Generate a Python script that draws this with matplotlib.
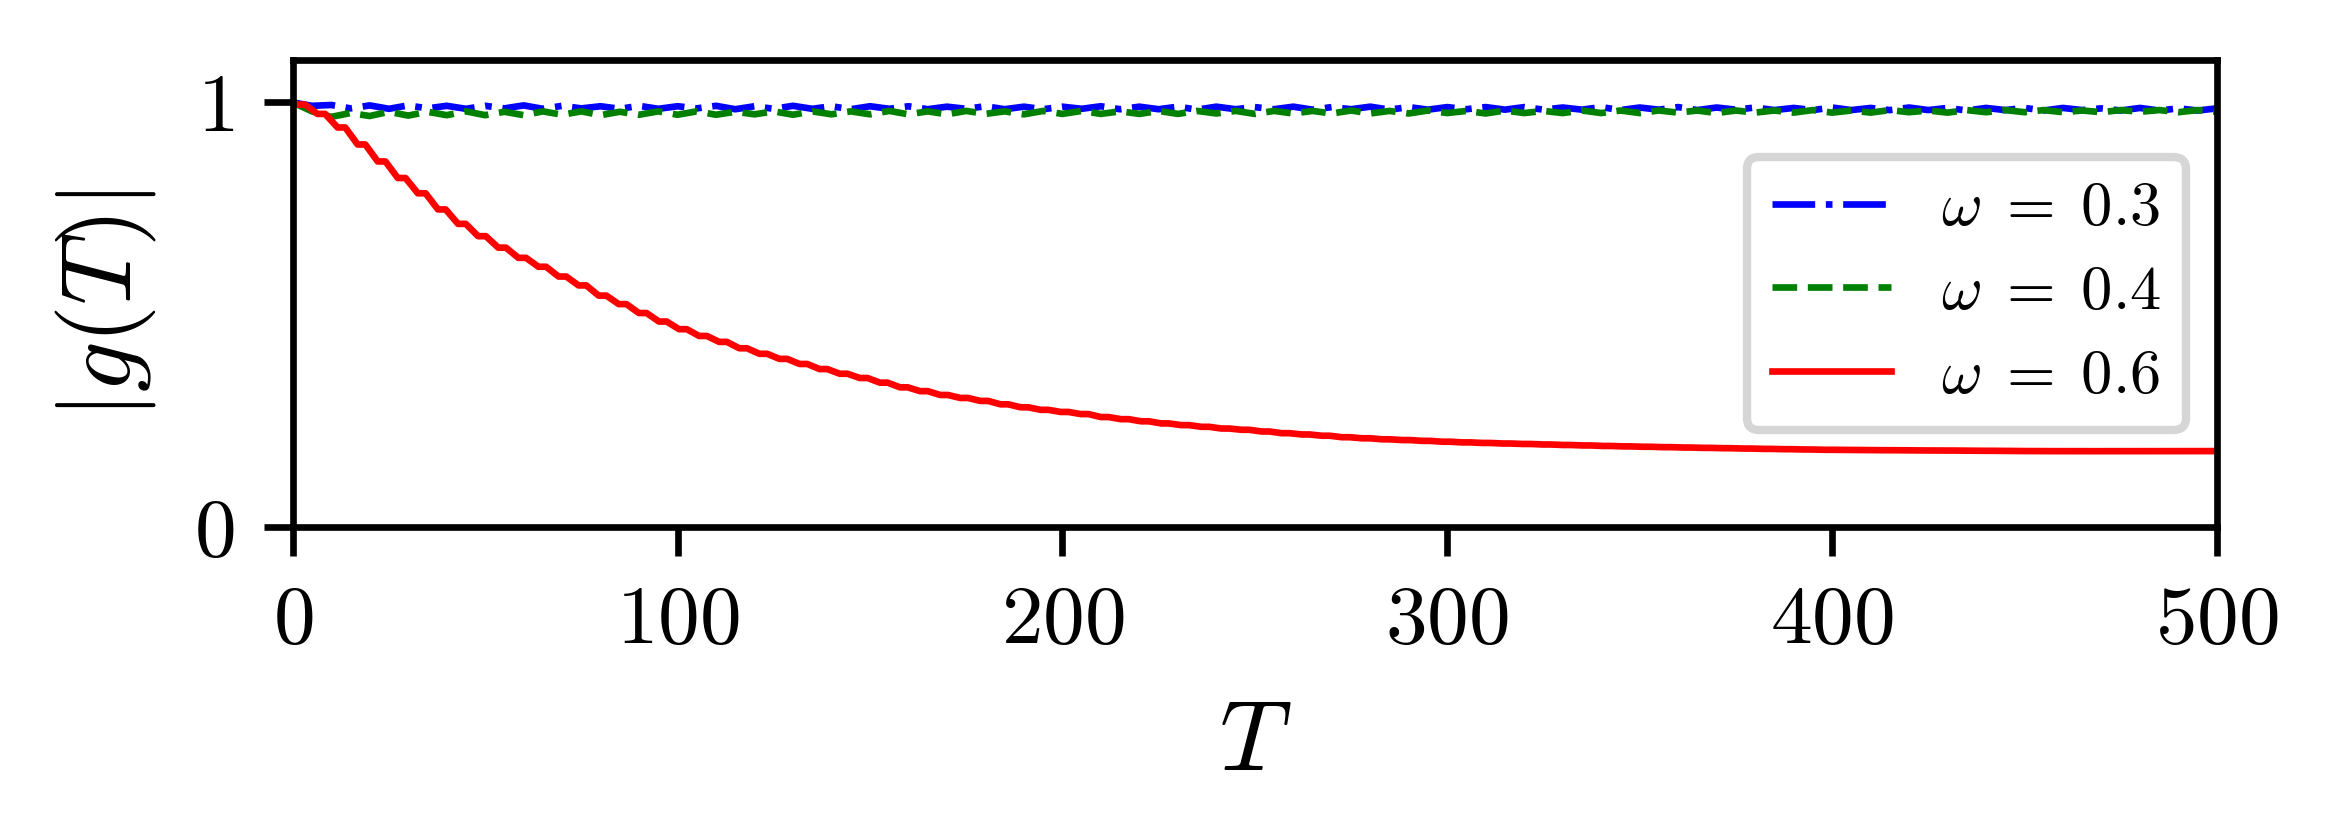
import matplotlib
matplotlib.use("Agg")
import matplotlib.pyplot as plt
import numpy as np

plt.rcParams['font.family'] = 'serif'
plt.rcParams['font.serif'] = ['cmr10']
plt.rcParams['mathtext.fontset'] = 'cm'
plt.rcParams['axes.formatter.use_mathtext'] = True

# omega = 0.3 and 0.4, read every 5 steps of T
T_grid = np.arange(0, 501, 5)
g_03 = [1.000, 0.992, 0.994, 0.986, 0.993, 0.985, 0.993, 0.986, 0.992, 0.985,
        0.992, 0.986, 0.993, 0.985, 0.992, 0.986, 0.991, 0.985, 0.992, 0.985,
        0.991, 0.986, 0.992, 0.984, 0.991, 0.985, 0.992, 0.985, 0.991, 0.984,
        0.991, 0.985, 0.991, 0.984, 0.990, 0.985, 0.991, 0.984, 0.990, 0.984,
        0.990, 0.985, 0.991, 0.984, 0.990, 0.984, 0.990, 0.983, 0.990, 0.984,
        0.989, 0.984, 0.990, 0.983, 0.989, 0.984, 0.990, 0.983, 0.989, 0.983,
        0.989, 0.984, 0.989, 0.983, 0.989, 0.983, 0.988, 0.983, 0.989, 0.982,
        0.988, 0.983, 0.989, 0.982, 0.988, 0.983, 0.988, 0.982, 0.987, 0.982,
        0.988, 0.982, 0.987, 0.982, 0.988, 0.982, 0.987, 0.981, 0.987, 0.982,
        0.987, 0.981, 0.987, 0.982, 0.986, 0.981, 0.987, 0.981, 0.986, 0.981,
        0.986]
g_04 = [1.000, 0.979, 0.966, 0.975, 0.968, 0.978, 0.969, 0.978, 0.970, 0.979,
        0.970, 0.978, 0.970, 0.979, 0.971, 0.979, 0.970, 0.978, 0.971, 0.979,
        0.971, 0.979, 0.971, 0.978, 0.972, 0.979, 0.971, 0.979, 0.972, 0.979,
        0.972, 0.980, 0.972, 0.979, 0.972, 0.980, 0.973, 0.979, 0.972, 0.980,
        0.973, 0.980, 0.973, 0.979, 0.973, 0.980, 0.973, 0.980, 0.974, 0.980,
        0.973, 0.980, 0.974, 0.980, 0.974, 0.981, 0.974, 0.980, 0.974, 0.981,
        0.975, 0.980, 0.974, 0.981, 0.975, 0.980, 0.975, 0.981, 0.975, 0.981,
        0.975, 0.981, 0.976, 0.981, 0.975, 0.981, 0.976, 0.981, 0.976, 0.982,
        0.976, 0.981, 0.976, 0.982, 0.977, 0.981, 0.976, 0.982, 0.977, 0.982,
        0.977, 0.982, 0.977, 0.981, 0.977, 0.982, 0.978, 0.982, 0.977, 0.982,
        0.978]

# omega = 0.6: level of each small step of the staircase, one every ~5.22 in T
step_T = 2.2 + 5.22 * np.arange(96)
step_g = [0.995, 0.973, 0.941, 0.901, 0.861, 0.822, 0.786, 0.748, 0.714, 0.685,
          0.658, 0.634, 0.613, 0.590, 0.569, 0.545, 0.525, 0.504, 0.484, 0.466,
          0.450, 0.436, 0.421, 0.408, 0.396, 0.384, 0.372, 0.361, 0.351, 0.340,
          0.329, 0.320, 0.311, 0.304, 0.297, 0.289, 0.282, 0.276, 0.271, 0.266,
          0.259, 0.254, 0.249, 0.244, 0.240, 0.236, 0.232, 0.229, 0.225, 0.221,
          0.218, 0.215, 0.2115, 0.209, 0.2066, 0.2048, 0.2029, 0.2009, 0.1993, 0.1980,
          0.1967, 0.1956, 0.1944, 0.1932, 0.1921, 0.1909, 0.1899, 0.1890, 0.1881, 0.1872,
          0.1864, 0.1856, 0.1848, 0.1840, 0.1833, 0.1826, 0.1819, 0.1815, 0.1812, 0.1809,
          0.1806, 0.1803, 0.1801, 0.1798, 0.1795, 0.1792, 0.1789, 0.1787, 0.1786, 0.1786,
          0.1786, 0.1786, 0.1787, 0.1787, 0.1788, 0.1788]

labels = [r'$\omega\;=\;0.3$', r'$\omega\;=\;0.4$', r'$\omega\;=\;0.6$']

# each step is flat over a short stretch around its centre
T_06 = np.concatenate([[0.0], np.column_stack([step_T - 1.0, step_T + 1.0]).ravel()])
g_06 = np.concatenate([[1.0], np.repeat(step_g, 2)])

fig = plt.figure(figsize=(3.9, 1.4), dpi=600)
fig.subplots_adjust(left=0.1251, right=0.9474, bottom=0.3726, top=0.9286)
ax = fig.add_subplot(1, 1, 1)
ax.plot(T_grid, g_03, 'b-.', lw=0.8, label=labels[0])
ax.plot(T_grid, g_04, 'g--', lw=0.8, label=labels[1])
ax.plot(T_06, g_06, 'r-', lw=0.8, label=labels[2])
ax.set_xlim(0, 500)
ax.set_ylim(0, 1.1)
ax.set_xticks([0, 100, 200, 300, 400, 500])
ax.set_yticks([0, 1])
ax.tick_params(labelsize=10)
ax.set_xlabel(r'$T$', fontsize=12, labelpad=5)
ax.set_ylabel(r'$|g(T)|$', fontsize=12)
ax.yaxis.set_label_coords(-0.070, 0.477)
ax.legend(loc='center right', fontsize=7.5, labelspacing=0.45, handlelength=1.9)

fig.savefig('out.png', dpi=600)
